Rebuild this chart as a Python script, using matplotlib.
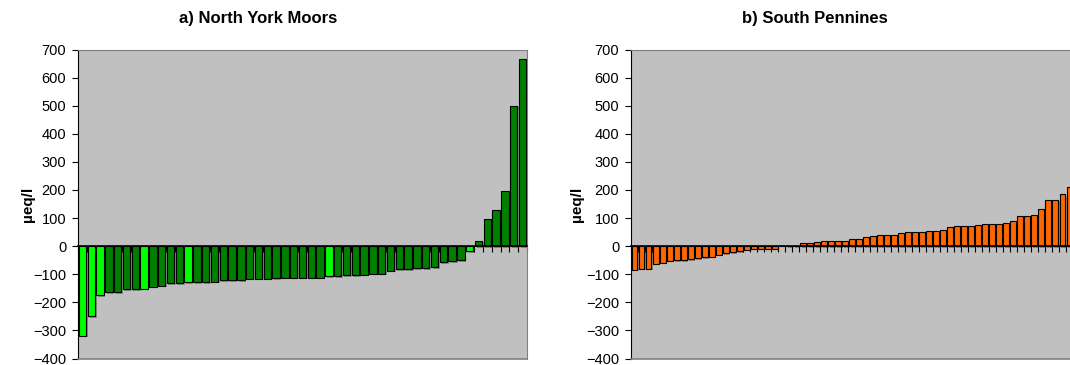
import numpy as np
import matplotlib
matplotlib.use('Agg')
import matplotlib.pyplot as plt
import matplotlib.patheffects as pe

plt.rcParams['font.family'] = ['Liberation Sans', 'DejaVu Sans']

# North York Moors, sorted site differences (ueq/l)
nym_values = [-319, -249, -174, -165, -165, -154, -154, -151, -144, -141,
              -132, -132, -129, -129, -129, -126, -122, -120, -120, -116,
              -116, -116, -113, -112, -112, -112, -112, -112, -108, -108,
              -104, -104, -101, -98, -98, -87, -83, -83, -79, -79,
              -76, -58, -54, -51, -18, 20, 95, 130, 195, 500, 667]
nym_bright = [0, 1, 2, 7, 12, 28, 44]

# South Pennines
sp_values = [-84, -80, -80, -62, -59, -52, -50, -50, -46, -44,
             -39, -37, -30, -24, -21, -18, -12, -9, -9, -9,
             -9, 0, 2, 2, 12, 12, 16, 19, 19, 19,
             20, 24, 24, 31, 37, 40, 40, 40, 45, 49,
             49, 51, 55, 55, 58, 67, 70, 72, 72, 76,
             80, 80, 80, 83, 88, 107, 107, 110, 133, 163,
             165, 186, 212]

y_ticks = list(range(-400, 701, 100))

W, H = 1070, 365
fig = plt.figure(figsize=(W / 100, H / 100), dpi=100)

shadow = [pe.SimplePatchShadow(offset=(1.2, -1.2), shadow_rgbFace='black', alpha=0.3), pe.Normal()]


def panel(left_px, n_slots, values, colors, title, title_x, label_x):
    ax = fig.add_axes([left_px / W, 6.5 / H, 449 / W, 309 / H])
    ax.set_facecolor('#c0c0c0')
    x = np.arange(len(values))
    bars = ax.bar(x, values, width=0.84, color=colors, edgecolor='black', linewidth=0.8, zorder=2)
    for b in bars:
        b.set_path_effects(shadow)
    ax.set_xlim(-0.5, n_slots - 0.5)
    ax.set_ylim(-400, 700)
    ax.set_yticks(y_ticks)
    ax.tick_params(axis='y', direction='out', length=4.5, width=0.8, pad=4, labelsize=10.5)
    # category axis sits at zero, ticks between categories
    ax.spines['bottom'].set_position(('data', 0))
    ax.spines['bottom'].set_linewidth(1.2)
    ax.spines['bottom'].set_zorder(3)
    ax.set_xticks(np.arange(n_slots + 1) - 0.5)
    ax.set_xticklabels([])
    ax.tick_params(axis='x', direction='out', length=4.5, width=0.8)
    ax.spines['left'].set_color('black')
    ax.spines['top'].set_color('#808080')
    ax.spines['right'].set_color('#808080')
    ax.axhline(-400, color='#808080', lw=1.2, clip_on=False, zorder=3)
    ax.set_ylabel('µeq/l', fontsize=11, fontweight='bold')
    ax.yaxis.set_label_coords(label_x, 0.5)
    fig.text(title_x / W, 1 - 19 / H, title, ha='center', va='center', fontsize=12, fontweight='bold')
    return ax


nym_colors = ['#00ff00' if i in nym_bright else '#008000' for i in range(len(nym_values))]
panel(78, len(nym_values), nym_values, nym_colors, 'a) North York Moors', 258, -0.096)
panel(631, 64, sp_values, ['#ff6600'] * len(sp_values), 'b) South Pennines', 815, -0.105)

fig.savefig('out.png', dpi=100)
